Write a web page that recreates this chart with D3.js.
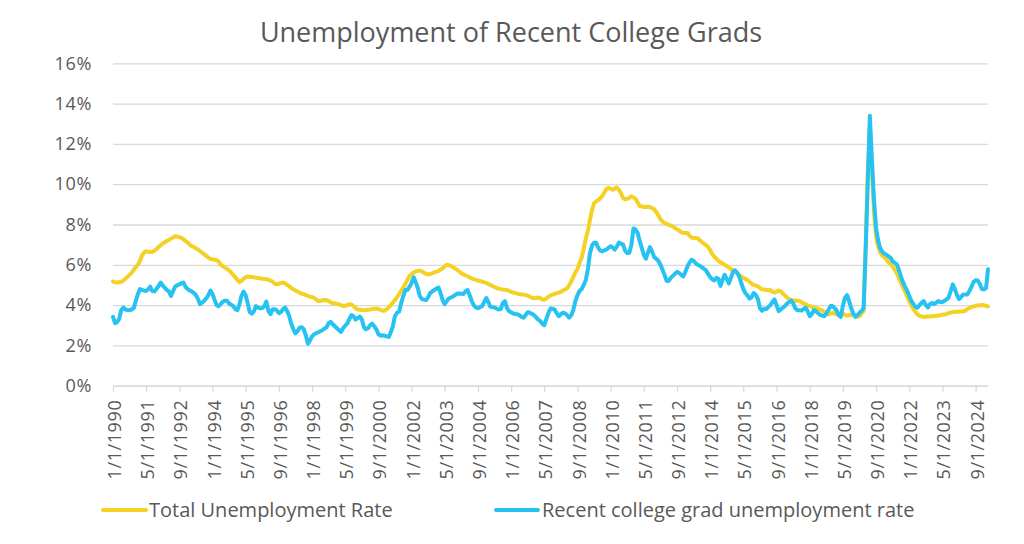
<!DOCTYPE html>
<html><head><meta charset="utf-8">
<script src="https://cdn.jsdelivr.net/npm/d3@7"></script>
<style>body{margin:0;background:#fff}svg{display:block}</style>
</head><body><svg id="c" width="1024" height="544"></svg>
<script>
// ---- data (monthly, Jan 1990 – Mar 2025), percent ----
const startMonth = "1990-01";
const titleText = "Unemployment of Recent College Grads";
const seriesNames = ["Total Unemployment Rate", "Recent college grad unemployment rate"];
const yTicks = [0, 2, 4, 6, 8, 10, 12, 14, 16];
const tickLabels = ["1/1/1990","5/1/1991","9/1/1992","1/1/1994","5/1/1995","9/1/1996","1/1/1998",
  "5/1/1999","9/1/2000","1/1/2002","5/1/2003","9/1/2004","1/1/2006","5/1/2007","9/1/2008",
  "1/1/2010","5/1/2011","9/1/2012","1/1/2014","5/1/2015","9/1/2016","1/1/2018","5/1/2019",
  "9/1/2020","1/1/2022","5/1/2023","9/1/2024"];

const totalRate = [
  5.17,5.14,5.12,5.13,5.16,5.2,5.3,5.4,5.5,5.6,5.75,5.88,
  6.0,6.2,6.45,6.6,6.67,6.65,6.63,6.65,6.7,6.78,6.88,6.98,
  7.05,7.12,7.18,7.23,7.3,7.36,7.42,7.4,7.37,7.33,7.26,7.18,
  7.1,7.0,6.93,6.88,6.82,6.76,6.68,6.6,6.52,6.44,6.36,6.29,
  6.27,6.25,6.23,6.15,6.02,5.93,5.86,5.8,5.73,5.62,5.5,5.38,
  5.25,5.14,5.2,5.3,5.38,5.42,5.4,5.39,5.38,5.36,5.35,5.33,
  5.31,5.3,5.28,5.26,5.22,5.15,5.07,5.03,5.06,5.1,5.12,5.08,
  5.0,4.93,4.85,4.78,4.72,4.68,4.62,4.57,4.54,4.5,4.46,4.42,
  4.4,4.35,4.28,4.2,4.2,4.24,4.25,4.24,4.21,4.14,4.1,4.08,
  4.06,4.03,4.0,3.96,3.96,4.0,4.04,4.03,3.95,3.85,3.78,3.77,
  3.76,3.75,3.75,3.77,3.78,3.8,3.82,3.83,3.8,3.76,3.72,3.72,
  3.8,3.9,4.0,4.12,4.25,4.4,4.55,4.72,4.88,5.05,5.25,5.45,
  5.55,5.62,5.67,5.7,5.72,5.68,5.6,5.55,5.53,5.53,5.58,5.63,
  5.66,5.7,5.75,5.82,5.92,6.0,5.98,5.94,5.88,5.82,5.75,5.67,
  5.58,5.52,5.48,5.43,5.38,5.32,5.28,5.25,5.22,5.2,5.16,5.13,
  5.1,5.05,5.0,4.95,4.9,4.85,4.82,4.79,4.77,4.76,4.75,4.7,
  4.66,4.62,4.6,4.57,4.55,4.53,4.52,4.5,4.47,4.42,4.36,4.33,
  4.36,4.38,4.36,4.28,4.27,4.33,4.42,4.48,4.52,4.56,4.6,4.62,
  4.66,4.72,4.77,4.83,4.98,5.18,5.4,5.62,5.8,6.1,6.35,6.8,
  7.3,7.7,8.2,8.7,9.05,9.15,9.2,9.3,9.42,9.6,9.77,9.82,
  9.78,9.72,9.78,9.83,9.72,9.55,9.32,9.25,9.27,9.33,9.4,9.35,
  9.27,9.1,8.92,8.9,8.87,8.87,8.88,8.87,8.82,8.76,8.62,8.45,
  8.27,8.15,8.07,8.03,7.98,7.95,7.9,7.83,7.76,7.7,7.62,7.58,
  7.58,7.58,7.45,7.35,7.33,7.33,7.32,7.22,7.13,7.05,6.97,6.88,
  6.72,6.52,6.4,6.3,6.2,6.12,6.07,6.0,5.93,5.86,5.79,5.72,
  5.65,5.59,5.5,5.42,5.35,5.3,5.25,5.15,5.06,5.0,4.97,4.93,
  4.85,4.78,4.77,4.76,4.73,4.75,4.66,4.62,4.67,4.72,4.68,4.57,
  4.48,4.38,4.3,4.26,4.24,4.23,4.22,4.2,4.15,4.09,4.04,3.98,
  3.95,3.92,3.9,3.87,3.82,3.78,3.74,3.66,3.57,3.54,3.58,3.62,
  3.58,3.54,3.55,3.56,3.57,3.52,3.48,3.5,3.52,3.5,3.45,3.42,
  3.45,3.6,3.7,7.0,10.5,12.8,10.8,8.6,7.4,6.9,6.6,6.45,
  6.38,6.25,6.12,6.05,5.92,5.75,5.58,5.35,5.1,4.87,4.65,4.42,
  4.2,3.98,3.8,3.65,3.54,3.47,3.43,3.41,3.42,3.43,3.44,3.45,
  3.46,3.47,3.48,3.5,3.52,3.53,3.56,3.6,3.63,3.65,3.67,3.67,
  3.67,3.68,3.69,3.72,3.8,3.86,3.9,3.94,3.97,3.98,3.99,4.0,
  3.99,3.96,3.93
];

const gradRate = [
  3.42,3.1,3.15,3.3,3.75,3.88,3.78,3.76,3.75,3.78,3.85,4.2,
  4.55,4.8,4.76,4.72,4.7,4.78,4.92,4.7,4.68,4.8,4.95,5.12,
  4.98,4.85,4.75,4.68,4.45,4.7,4.92,4.98,5.03,5.08,5.12,4.9,
  4.8,4.72,4.68,4.6,4.5,4.3,4.05,4.12,4.22,4.33,4.5,4.72,
  4.55,4.25,4.0,3.95,4.05,4.17,4.22,4.22,4.08,4.02,3.95,3.8,
  3.75,4.05,4.45,4.67,4.5,4.1,3.65,3.58,3.7,3.95,3.88,3.84,
  3.86,3.95,4.17,3.7,3.55,3.8,3.8,3.74,3.6,3.65,3.8,3.88,
  3.7,3.45,3.08,2.8,2.6,2.7,2.88,2.9,2.8,2.5,2.08,2.25,
  2.45,2.55,2.6,2.65,2.7,2.75,2.83,2.9,3.1,3.17,3.05,2.95,
  2.85,2.75,2.67,2.85,2.98,3.08,3.3,3.5,3.45,3.28,3.35,3.43,
  3.3,2.9,2.8,2.85,3.0,3.08,2.95,2.8,2.55,2.48,2.5,2.48,
  2.45,2.42,2.65,2.95,3.45,3.62,3.67,4.1,4.45,4.75,4.75,4.9,
  5.1,5.38,5.15,4.85,4.45,4.3,4.27,4.25,4.4,4.6,4.68,4.75,
  4.82,4.87,4.6,4.25,4.05,4.2,4.33,4.38,4.43,4.5,4.56,4.58,
  4.56,4.55,4.68,4.75,4.5,4.2,4.0,3.88,3.85,3.9,3.95,4.15,
  4.35,4.15,3.92,3.9,3.88,3.83,3.78,3.8,4.1,4.2,3.85,3.7,
  3.64,3.58,3.56,3.55,3.5,3.42,3.37,3.5,3.65,3.62,3.57,3.5,
  3.4,3.28,3.22,3.08,3.0,3.3,3.6,3.83,3.82,3.78,3.6,3.45,
  3.55,3.62,3.6,3.5,3.38,3.5,3.75,4.2,4.5,4.7,4.8,5.0,
  5.25,5.8,6.55,6.95,7.1,7.1,6.85,6.7,6.67,6.72,6.76,6.85,
  6.92,6.85,6.75,6.9,7.1,7.05,7.0,6.7,6.58,6.6,7.0,7.8,
  7.75,7.58,7.2,6.85,6.5,6.3,6.6,6.88,6.65,6.38,6.3,6.2,
  6.0,5.75,5.5,5.2,5.2,5.35,5.45,5.55,5.65,5.6,5.5,5.42,
  5.65,5.92,6.1,6.25,6.2,6.08,6.0,5.95,5.88,5.8,5.72,5.55,
  5.38,5.28,5.22,5.35,5.3,4.95,5.25,5.5,5.3,5.08,5.35,5.65,
  5.72,5.6,5.42,5.1,4.8,4.6,4.48,4.32,4.4,4.6,4.5,4.3,
  3.85,3.72,3.82,3.8,3.9,4.0,4.15,4.28,4.0,3.7,3.78,3.87,
  3.95,4.08,4.15,4.22,4.1,3.85,3.75,3.74,3.73,3.8,3.87,3.7,
  3.45,3.55,3.75,3.7,3.6,3.52,3.48,3.45,3.58,3.75,3.95,3.95,
  3.85,3.72,3.5,3.42,3.95,4.35,4.5,4.2,3.85,3.6,3.42,3.5,
  3.62,3.72,3.85,6.8,10.1,13.4,11.2,9.2,7.8,7.2,6.8,6.65,
  6.55,6.5,6.42,6.35,6.18,6.1,6.02,5.75,5.4,5.15,4.9,4.7,
  4.45,4.2,4.05,3.92,3.87,4.0,4.12,4.2,4.0,3.88,4.05,4.1,
  4.05,4.12,4.2,4.15,4.15,4.22,4.28,4.37,4.7,5.03,4.8,4.5,
  4.3,4.4,4.53,4.52,4.53,4.7,4.9,5.15,5.23,5.22,5.05,4.8,
  4.78,4.85,5.78
];

// ---- chart ----
const FONT = "'Open Sans', 'Noto Sans', sans-serif";
const TEXT = "#595959", GRID = "#D9D9D9";
const COLORS = ["#F4D125", "#26C2F2"];

const svg = d3.select("#c").style("font-family", FONT);
const plot = {left: 113, right: 988, top: 63.3, bottom: 385.7};

const parseM = d3.timeParse("%Y-%m");
const t0 = parseM(startMonth);
const months = totalRate.map((_, i) => d3.timeMonth.offset(t0, i));
const x = d3.scaleTime().domain([months[0], months[months.length - 1]]).range([plot.left, plot.right]);
const y = d3.scaleLinear().domain([0, 16]).range([plot.bottom, plot.top]);

// title
svg.append("text").attr("x", 511).attr("y", 42).attr("text-anchor", "middle")
  .attr("fill", TEXT).style("font-size", "27px").text(titleText);

// y grid + labels
const gy = svg.append("g").attr("transform", `translate(${plot.left},0)`)
  .call(d3.axisLeft(y).tickValues(yTicks).tickSize(-(plot.right - plot.left))
    .tickPadding(21).tickFormat(d => d + "%"));
gy.select(".domain").remove();
gy.selectAll(".tick line").attr("stroke", GRID).attr("stroke-width", 1.3);
gy.selectAll(".tick text").attr("fill", TEXT).style("font-size", "18px")
  .style("letter-spacing", "0.7px").style("font-family", FONT);

// x axis
const parseT = d3.timeParse("%m/%d/%Y");
const tickDates = tickLabels.map(parseT);
const gx = svg.append("g").attr("transform", `translate(0,${plot.bottom})`)
  .call(d3.axisBottom(x).tickValues(tickDates).tickSize(6).tickSizeOuter(0)
    .tickFormat((d, i) => tickLabels[i]));
gx.select(".domain").attr("stroke", GRID).attr("stroke-width", 1.3);
gx.selectAll(".tick line").attr("stroke", GRID).attr("stroke-width", 1.3);
gx.selectAll(".tick text").attr("fill", TEXT).style("font-size", "18px")
  .style("letter-spacing", "0.6px").style("font-family", FONT)
  .attr("transform", "rotate(-90)").attr("text-anchor", "end")
  .attr("x", -14).attr("y", 0).attr("dy", "0.42em");

// lines
const line = d3.line().x((d, i) => x(months[i])).y(d => y(d)).curve(d3.curveLinear);
[totalRate, gradRate].forEach((s, k) => {
  svg.append("path").datum(s).attr("d", line).attr("fill", "none")
    .attr("stroke", COLORS[k]).attr("stroke-width", 4)
    .attr("stroke-linejoin", "round").attr("stroke-linecap", "round");
});

// legend
const legendPos = [{x1: 103, x2: 146, tx: 149}, {x1: 496, x2: 538, tx: 542}];
seriesNames.forEach((name, k) => {
  const p = legendPos[k];
  svg.append("line").attr("x1", p.x1).attr("x2", p.x2).attr("y1", 510).attr("y2", 510)
    .attr("stroke", COLORS[k]).attr("stroke-width", 4).attr("stroke-linecap", "round");
  svg.append("text").attr("x", p.tx).attr("y", 517).attr("fill", TEXT)
    .style("font-size", "20px").text(name);
});
</script></body></html>
